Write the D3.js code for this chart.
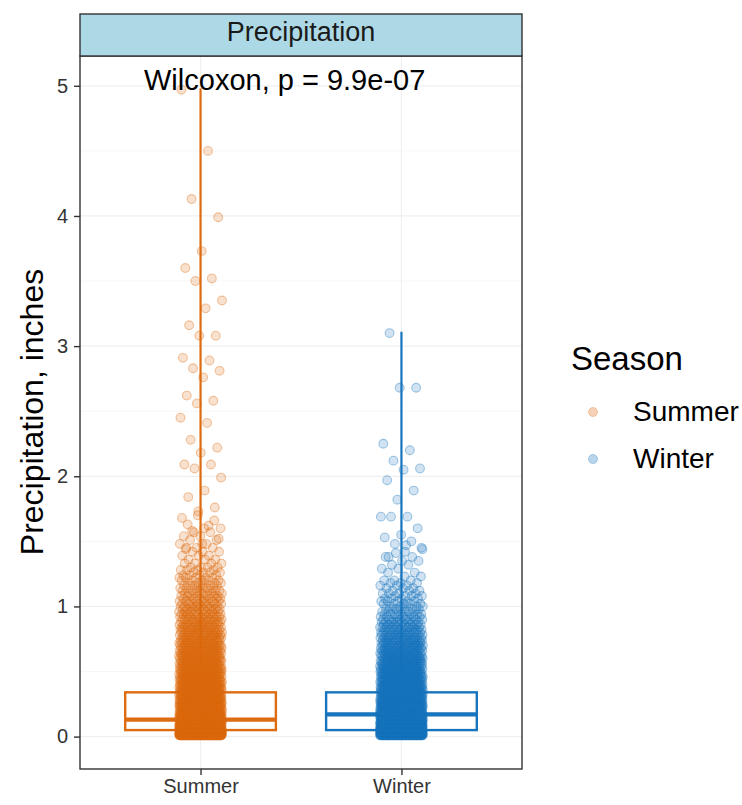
<!DOCTYPE html>
<html><head><meta charset="utf-8">
<script src="https://cdn.jsdelivr.net/npm/d3@7"></script>
<style>body{margin:0;background:#fff;} text{font-family:"Liberation Sans",Arial,Helvetica,sans-serif;}</style>
</head><body><svg id="c" width="742" height="805"></svg>
<script>
const categories = ["Summer", "Winter"];
const seasonColors = ["#DD6B10", "#1775BD"];
const boxQ1 = [0.05, 0.05];
const boxMedian = [0.13, 0.17];
const boxQ3 = [0.34, 0.34];
const whiskerLow = [0, 0];
const whiskerHigh = [4.98, 3.11];
// value / count pairs for the dense part of each cloud
const summerFreq = [[0.01,130],[0.02,110],[0.03,90],[0.04,75],[0.05,65],[0.06,55],[0.07,50],[0.08,45],[0.09,42],[0.10,40],[0.11,38],[0.12,36],[0.13,34],[0.14,32],[0.15,30],[0.16,29],[0.17,28],[0.18,27],[0.19,26],[0.20,25],[0.22,45],[0.24,42],[0.26,40],[0.28,38],[0.30,36],[0.32,34],[0.34,32],[0.36,30],[0.38,29],[0.40,28],[0.42,27],[0.44,26],[0.46,25],[0.48,24],[0.50,23],[0.52,22],[0.54,21],[0.56,20],[0.58,20],[0.60,19],[0.62,18],[0.64,18],[0.66,17],[0.68,16],[0.70,16],[0.72,15],[0.74,15],[0.76,14],[0.78,14],[0.80,13],[0.82,13],[0.84,12],[0.86,12],[0.88,11],[0.90,11],[0.92,10],[0.94,10],[0.96,9],[0.98,9],[1.00,9],[1.02,8],[1.04,8],[1.06,7],[1.08,7],[1.10,7],[1.12,6],[1.14,6],[1.16,6],[1.18,5],[1.20,5],[1.22,5],[1.24,4],[1.26,4],[1.28,4],[1.30,4],[1.33,4],[1.36,3],[1.39,3],[1.42,3],[1.45,3],[1.48,2],[1.51,2],[1.54,2],[1.57,2],[1.60,2],[1.63,1],[1.66,1],[1.70,1]];
const winterFreq = [[0.01,100],[0.02,95],[0.03,85],[0.04,75],[0.05,68],[0.06,60],[0.07,55],[0.08,52],[0.09,50],[0.10,48],[0.11,46],[0.12,44],[0.13,42],[0.14,40],[0.15,38],[0.16,36],[0.17,34],[0.18,33],[0.19,32],[0.20,31],[0.22,55],[0.24,50],[0.26,46],[0.28,43],[0.30,40],[0.32,37],[0.34,35],[0.36,33],[0.38,31],[0.40,29],[0.42,28],[0.44,27],[0.46,26],[0.48,25],[0.50,24],[0.52,23],[0.54,22],[0.56,21],[0.58,20],[0.60,19],[0.62,18],[0.64,17],[0.66,16],[0.68,16],[0.70,15],[0.72,14],[0.74,14],[0.76,13],[0.78,12],[0.80,12],[0.82,11],[0.84,10],[0.86,10],[0.88,9],[0.90,8],[0.92,7],[0.94,7],[0.96,6],[0.98,6],[1.00,5],[1.02,5],[1.04,5],[1.06,4],[1.08,4],[1.10,4],[1.12,3],[1.14,3],[1.16,3],[1.18,3],[1.20,3],[1.23,2],[1.26,2],[1.29,2],[1.32,2],[1.35,2],[1.38,2],[1.41,1],[1.44,1],[1.47,1]];
// individually visible high values
const summerOutliers = [4.97,4.50,4.13,3.99,3.73,3.60,3.52,3.50,3.35,3.29,3.16,3.08,3.08,2.91,2.89,2.83,2.81,2.76,2.62,2.58,2.56,2.45,2.41,2.28,2.22,2.18,2.09,2.09,2.06,1.99,1.89,1.84,1.76,1.73,1.68,1.62,1.58,1.52,1.48,1.44];
const winterOutliers = [3.10,2.68,2.68,2.25,2.20,2.12,2.06,2.05,1.97,1.89,1.82,1.69,1.69,1.69,1.60,1.55,1.53,1.50,1.48,1.45,1.42,1.38];
const yTicks = [0, 1, 2, 3, 4, 5];
const yMinor = [0.5, 1.5, 2.5, 3.5, 4.5];
const stripLabel = "Precipitation";
const testLabel = "Wilcoxon, p = 9.9e-07";
const yTitle = "Precipitation, inches";
const legendTitle = "Season";

const svg = d3.select("#c");
const P = {l: 80, r: 522, t: 56, b: 769, stripTop: 14};
const y = d3.scaleLinear().domain([-0.249, 5.229]).range([P.b, P.t]);
const x = d3.scalePoint().domain(categories).range([P.l, P.r]).padding(0.6);
const step = x.step();
const boxW = 0.75 * step;
const jitterHalf = 21.5;
const color = d3.scaleOrdinal().domain(categories).range(seasonColors);

svg.append("rect").attr("width", 742).attr("height", 805).attr("fill", "#fff");

// grid
const g = svg.append("g");
g.selectAll(".ymin").data(yMinor).join("line")
  .attr("x1", P.l).attr("x2", P.r).attr("y1", d => y(d)).attr("y2", d => y(d))
  .attr("stroke", "#F7F7F7").attr("stroke-width", 1);
g.selectAll(".ymaj").data(yTicks).join("line")
  .attr("x1", P.l).attr("x2", P.r).attr("y1", d => y(d)).attr("y2", d => y(d))
  .attr("stroke", "#EFEFEF").attr("stroke-width", 1.2);
g.selectAll(".xmaj").data(categories).join("line")
  .attr("x1", d => x(d)).attr("x2", d => x(d)).attr("y1", P.t).attr("y2", P.b)
  .attr("stroke", "#EFEFEF").attr("stroke-width", 1.2);

// boxes
const bx = svg.append("g");
categories.forEach((c, i) => {
  const cx = x(c), col = color(c);
  bx.append("line").attr("x1", cx).attr("x2", cx).attr("y1", y(boxQ3[i])).attr("y2", y(whiskerHigh[i]))
    .attr("stroke", col).attr("stroke-width", 2.2);
  bx.append("line").attr("x1", cx).attr("x2", cx).attr("y1", y(boxQ1[i])).attr("y2", y(whiskerLow[i]))
    .attr("stroke", col).attr("stroke-width", 2.2);
  bx.append("rect").attr("x", cx - boxW / 2).attr("width", boxW)
    .attr("y", y(boxQ3[i])).attr("height", y(boxQ1[i]) - y(boxQ3[i]))
    .attr("fill", "none").attr("stroke", col).attr("stroke-width", 2.4);
  bx.append("line").attr("x1", cx - boxW / 2).attr("x2", cx + boxW / 2)
    .attr("y1", y(boxMedian[i])).attr("y2", y(boxMedian[i]))
    .attr("stroke", col).attr("stroke-width", 4.2);
});

// points
function expand(freq, outl) {
  const arr = [];
  freq.forEach(([v, n]) => { for (let j = 0; j < n; j++) arr.push(v); });
  outl.forEach(v => arr.push(v));
  return arr;
}
const series = [expand(summerFreq, summerOutliers), expand(winterFreq, winterOutliers)];
const pts = svg.append("g");
categories.forEach((c, i) => {
  const col = color(c);
  const data = series[i].map((v, k) => {
    const u = ((k + 1) * 0.6180339887498949 + i * 0.37) % 1;
    return {v, dx: (u * 2 - 1) * jitterHalf};
  });
  pts.append("g").selectAll("circle").data(data).join("circle")
    .attr("cx", d => x(c) + d.dx).attr("cy", d => y(d.v)).attr("r", 4.4)
    .attr("fill", col).attr("fill-opacity", 0.2)
    .attr("stroke", col).attr("stroke-opacity", 0.38).attr("stroke-width", 1.1);
});

// panel border
svg.append("rect").attr("x", P.l).attr("y", P.t).attr("width", P.r - P.l).attr("height", P.b - P.t)
  .attr("fill", "none").attr("stroke", "#333").attr("stroke-width", 1.4);

// strip
svg.append("rect").attr("x", P.l).attr("y", P.stripTop).attr("width", P.r - P.l).attr("height", P.t - P.stripTop)
  .attr("fill", "#ADD8E6").attr("stroke", "#333").attr("stroke-width", 1.4);
svg.append("text").attr("x", (P.l + P.r) / 2).attr("y", 41).attr("text-anchor", "middle")
  .attr("font-size", 27).attr("fill", "#1a1a1a").text(stripLabel);

// axes
const yAxis = d3.axisLeft(y).tickValues(yTicks).tickSize(6).tickPadding(6).tickFormat(d3.format("d"));
const ya = svg.append("g").attr("transform", `translate(${P.l},0)`).call(yAxis);
ya.select(".domain").remove();
ya.selectAll("line").attr("stroke", "#333").attr("stroke-width", 1.4);
ya.selectAll("text").attr("font-size", 20).attr("fill", "#333").attr("font-family", "Liberation Sans, Arial, sans-serif");
const xAxis = d3.axisBottom(x).tickSize(6).tickPadding(4);
const xa = svg.append("g").attr("transform", `translate(0,${P.b})`).call(xAxis);
xa.select(".domain").remove();
xa.selectAll("line").attr("stroke", "#333").attr("stroke-width", 1.4);
xa.selectAll("text").attr("font-size", 20).attr("fill", "#333").attr("font-family", "Liberation Sans, Arial, sans-serif");

// annotation
svg.append("text").attr("x", 144).attr("y", 90).attr("font-size", 29).attr("fill", "#000").text(testLabel);

// y title
svg.append("text").attr("transform", `translate(43,412) rotate(-90)`).attr("text-anchor", "middle")
  .attr("font-size", 32).attr("fill", "#000").text(yTitle);

// legend
const lg = svg.append("g");
lg.append("text").attr("x", 571).attr("y", 370).attr("font-size", 33).attr("fill", "#000").text(legendTitle);
const legendY = [412, 459];
categories.forEach((c, i) => {
  lg.append("circle").attr("cx", 593).attr("cy", legendY[i]).attr("r", 4.5)
    .attr("fill", color(c)).attr("fill-opacity", 0.3)
    .attr("stroke", color(c)).attr("stroke-opacity", 0.3);
  lg.append("text").attr("x", 633).attr("y", legendY[i] + 9).attr("font-size", 28).attr("fill", "#000").text(c);
});
</script></body></html>
